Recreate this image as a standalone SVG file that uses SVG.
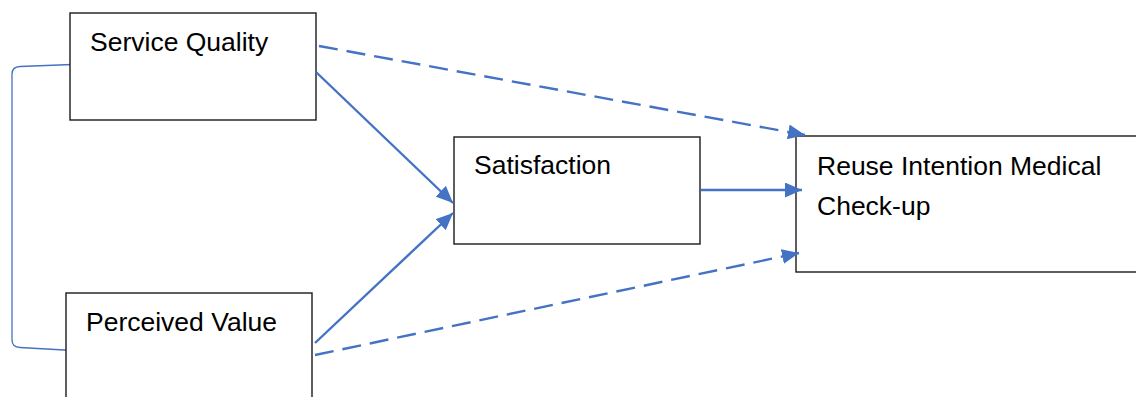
<svg xmlns="http://www.w3.org/2000/svg" width="1136" height="397" viewBox="0 0 1136 397">
  <style>
    .box { fill: #ffffff; stroke: #1a1a1a; stroke-width: 1.4; }
    .label { font-family: "Liberation Sans", Arial, sans-serif; font-size: 26.5px; fill: #000000; }
    .link { fill: none; stroke: #4472C4; stroke-width: 2.4; }
    .dashed { stroke-dasharray: 19 9; }
    .bracket { fill: none; stroke: #4472C4; stroke-width: 1.3; }
  </style>
  <defs>
    <marker id="arrow" markerUnits="userSpaceOnUse" markerWidth="18" markerHeight="15" refX="17" refY="7.5" orient="auto">
      <path d="M0,0 L17,7.5 L0,15 z" fill="#4472C4"/>
    </marker>
  </defs>
  <rect width="1136" height="397" fill="#ffffff"/>

  <!-- correlation bracket between the two exogenous constructs -->
  <path class="bracket" d="M72,64.5 L20,66.5 Q12,67 12,74 L12,340 Q12,347 20,347.5 L73,350.5"/>

  <g id="service-quality">
    <rect class="box" x="70" y="13" width="246" height="107"/>
    <text class="label" x="90" y="51">Service Quality</text>
  </g>

  <g id="perceived-value">
    <rect class="box" x="66" y="293" width="246" height="120"/>
    <text class="label" x="86" y="331">Perceived Value</text>
  </g>

  <g id="satisfaction">
    <rect class="box" x="454" y="137" width="246" height="107"/>
    <text class="label" x="474" y="174">Satisfaction</text>
  </g>

  <g id="reuse-intention">
    <rect class="box" x="796" y="136" width="360" height="136"/>
    <text class="label" x="817" y="175">Reuse Intention Medical</text>
    <text class="label" x="817" y="215">Check-up</text>
  </g>

  <g id="connectors">
    <line class="link dashed" x1="319" y1="46" x2="805" y2="135" marker-end="url(#arrow)"/>
    <line class="link" x1="316" y1="72" x2="453" y2="203" marker-end="url(#arrow)"/>
    <line class="link" x1="315" y1="343" x2="453" y2="213" marker-end="url(#arrow)"/>
    <line class="link dashed" x1="315" y1="355" x2="799" y2="253" marker-end="url(#arrow)"/>
    <line class="link" x1="701" y1="190" x2="802" y2="190" marker-end="url(#arrow)"/>
  </g>
</svg>
